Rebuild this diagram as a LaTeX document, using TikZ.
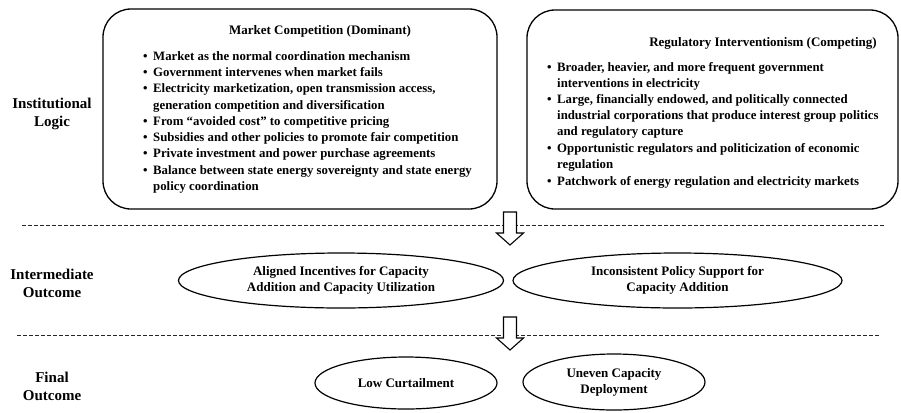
\documentclass[tikz,border=0pt]{standalone}
\usepackage{fontspec}
\setmainfont{Liberation Serif}
\usetikzlibrary{shapes.geometric}
\newcommand\bul{\makebox[10bp][l]{\textbullet}}
\begin{document}
\begin{tikzpicture}[x=1bp,y=-1bp,
  frame/.style={draw, line width=1.3bp, rounded corners=28bp, inner sep=0},
  oval/.style={ellipse, draw, line width=1.2bp, inner sep=0, align=center,
    font=\bfseries\fontsize{13bp}{16bp}\selectfont},
  head/.style={inner sep=0, font=\bfseries\fontsize{13bp}{16bp}\selectfont},
  line/.style={anchor=mid west, inner sep=0, font=\bfseries\fontsize{12.8bp}{16bp}\selectfont},
  lab/.style={align=center, inner sep=0, font=\bfseries\fontsize{15bp}{18bp}\selectfont},
  sep/.style={dashed, dash pattern=on 4bp off 2bp, line width=0.9bp, black!85},
  blockarrow/.style={draw, fill=white, line width=1.1bp, line join=miter}
]
\useasboundingbox (0,0) rectangle (901,412);

% level labels
\node[lab] (l1) at (52,114) {Institutional\\Logic};
\node[lab] (l2) at (52,283.5) {Intermediate\\Outcome};
\node[lab] (l3) at (52,386) {Final\\Outcome};

% institutional logic boxes
\node[frame, minimum width=394bp, minimum height=200bp] (b1) at (300,109) {};
\node[frame, minimum width=371bp, minimum height=199bp] (b2) at (712.5,109.5) {};

\node[head] (t1) at (320,31) {Market Competition (Dominant)};
\node[line] (m1) at (143,58)    {\bul Market as the normal coordination mechanism};
\node[line] (m2) at (143,74.25) {\bul Government intervenes when market fails};
\node[line] (m3) at (143,90.5)  {\bul Electricity marketization, open transmission access,};
\node[line] (m4) at (153,106.75){generation competition and diversification};
\node[line] (m5) at (143,123)   {\bul From “avoided cost” to competitive pricing};
\node[line] (m6) at (143,139.25){\bul Subsidies and other policies to promote fair competition};
\node[line] (m7) at (143,155.5) {\bul Private investment and power purchase agreements};
\node[line] (m8) at (143,171.75){\bul Balance between state energy sovereignty and state energy};
\node[line] (m9) at (153,188)   {policy coordination};

\node[head] (t2) at (763,43) {Regulatory Interventionism (Competing)};
\node[line] (r1) at (547,69)  {\bul Broader, heavier, and more frequent government};
\node[line] (r2) at (557,85)  {interventions in electricity};
\node[line] (r3) at (547,101) {\bul Large, financially endowed, and politically connected};
\node[line] (r4) at (557,117) {industrial corporations that produce interest group politics};
\node[line] (r5) at (557,133) {and regulatory capture};
\node[line] (r6) at (547,150) {\bul Opportunistic regulators and politicization of economic};
\node[line] (r7) at (557,166) {regulation};
\node[line] (r8) at (547,183) {\bul Patchwork of energy regulation and electricity markets};

% level separators
\coordinate (s1a) at (22,225);  \coordinate (s1b) at (885,225);
\coordinate (s2a) at (17,335);  \coordinate (s2b) at (880,335);
\draw[sep] (s1a) -- (s1b);
\draw[sep] (s2a) -- (s2b);

% downward block arrows
\coordinate (a1) at (510,212);
\coordinate (a2) at (510,317);
\foreach \c in {a1,a2}
  \draw[blockarrow] (\c) ++(-6.5,0) -- ++(13,0) -- ++(0,21) -- ++(7,0)
    -- ++(-13.5,12) -- ++(-13.5,-12) -- ++(7,0) -- cycle;

% intermediate outcomes
\node[oval, minimum width=325bp, minimum height=55bp] (e1) at (341,280.5)
  {Aligned Incentives for Capacity\\Addition and Capacity Utilization};
\node[oval, minimum width=329bp, minimum height=55bp] (e2) at (677.5,280.5)
  {Inconsistent Policy Support for\\Capacity Addition};

% final outcomes
\node[oval, minimum width=182bp, minimum height=52bp] (e3) at (406,383)
  {Low Curtailment};
\node[oval, minimum width=182bp, minimum height=56bp] (e4) at (614,382)
  {Uneven Capacity\\Deployment};
\end{tikzpicture}
\end{document}
